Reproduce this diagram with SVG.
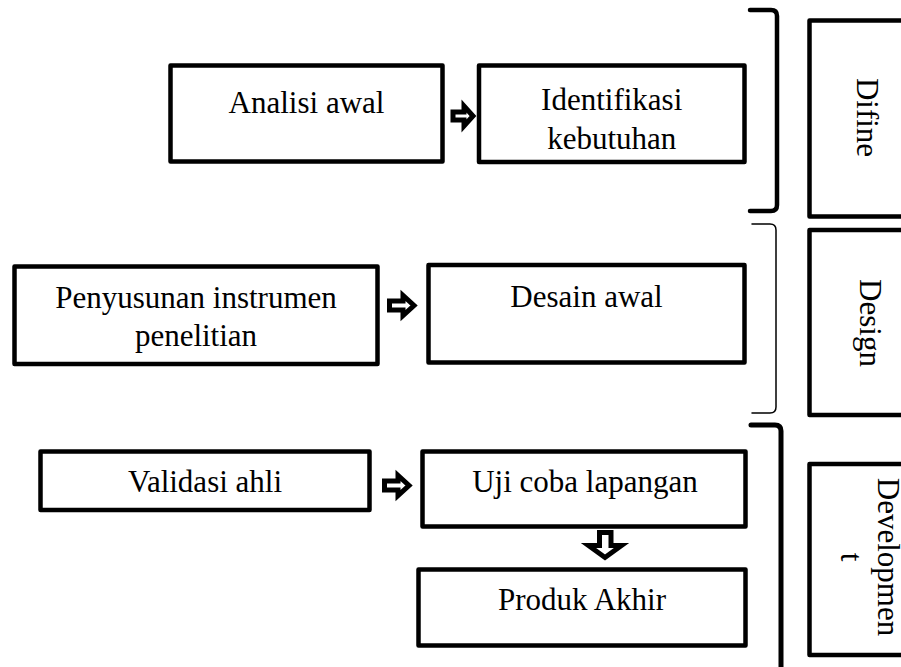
<svg xmlns="http://www.w3.org/2000/svg" width="901" height="667" viewBox="0 0 901 667">
<style>
.box{fill:#fff;stroke:#000;stroke-width:4.5;stroke-linejoin:round}
.lbl{font-family:"Liberation Serif","Times New Roman",serif;font-size:31px;fill:#000;text-anchor:middle}
.arr{fill:#fff;stroke:#000;stroke-width:5;stroke-linejoin:miter}
.brk{fill:none;stroke:#000;stroke-linecap:round}
</style>
<rect width="901" height="667" fill="#fff"/>
<g id="phase-difine">
<path class="brk" stroke-width="4.5" d="M750,10 H771 Q777,10 777,16 V205 Q777,211 771,211 H750"/>
<rect class="box" x="809.5" y="20.5" width="120" height="196"/>
<text class="lbl" transform="translate(857,117.5) rotate(90)">Difine</text>
</g>
<g id="phase-design">
<path class="brk" stroke-width="1.5" d="M752,224 H770 Q776,224 776,230 V407 Q776,413 770,413 H752"/>
<rect class="box" x="809.5" y="230" width="120" height="185"/>
<text class="lbl" transform="translate(860,323) rotate(90)">Design</text>
</g>
<g id="phase-development">
<path class="brk" stroke-width="5" d="M751,425 H775 Q781,425 781,431 V670"/>
<rect class="box" x="809.5" y="464" width="120" height="191"/>
<text class="lbl" transform="translate(878,557) rotate(90)"><tspan x="0" y="0">Developmen</tspan><tspan x="0" y="37">t</tspan></text>
</g>
<g id="analisi-awal">
<rect class="box" x="170.5" y="65.5" width="272" height="96"/>
<text class="lbl" x="306.5" y="113">Analisi awal</text>
</g>
<g id="identifikasi-kebutuhan">
<rect class="box" x="479" y="65.5" width="265.5" height="96.5"/>
<text class="lbl" x="611.7" y="110">Identifikasi</text>
<text class="lbl" x="611.7" y="149">kebutuhan</text>
</g>
<g id="penyusunan-instrumen">
<rect class="box" x="14.5" y="266.5" width="363" height="97.5"/>
<text class="lbl" x="196" y="308">Penyusunan instrumen</text>
<text class="lbl" x="196" y="346">penelitian</text>
</g>
<g id="desain-awal">
<rect class="box" x="428.5" y="265" width="316" height="97.5"/>
<text class="lbl" x="586.5" y="307">Desain awal</text>
</g>
<g id="validasi-ahli">
<rect class="box" x="40.5" y="451.5" width="329" height="58.5"/>
<text class="lbl" x="205" y="492">Validasi ahli</text>
</g>
<g id="uji-coba-lapangan">
<rect class="box" x="422.5" y="451.5" width="323" height="75"/>
<text class="lbl" x="585" y="492">Uji coba lapangan</text>
</g>
<g id="produk-akhir">
<rect class="box" x="418.5" y="569.5" width="327" height="76"/>
<text class="lbl" x="582" y="610">Produk Akhir</text>
</g>
<g id="connectors">
<polygon class="arr" points="453,112 464,112 464,106 473,116 464,126 464,120 453,120"/>
<polygon class="arr" points="389.5,301 403,301 403,295.5 414,305.5 403,315.5 403,310 389.5,310"/>
<polygon class="arr" points="384.5,481 398,481 398,475.5 409,485.5 398,495.5 398,490 384.5,490"/>
<polygon class="arr" points="599.5,532.5 611,532.5 611,545.5 621.5,545.5 605,557.5 588.5,545.5 599.5,545.5"/>
</g>
</svg>
